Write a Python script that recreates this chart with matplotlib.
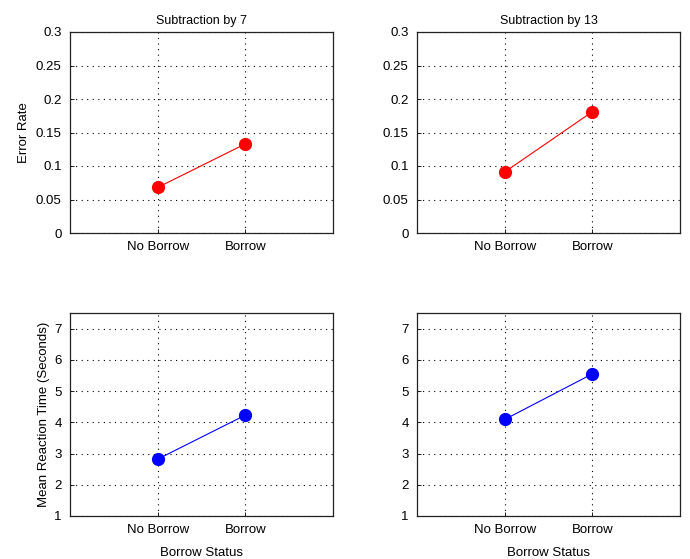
import matplotlib
matplotlib.use("Agg")
import matplotlib.pyplot as plt

# data
categories = ["No Borrow", "Borrow"]
titles = ["Subtraction by 7", "Subtraction by 13"]
error_by7 = [0.068, 0.133]
error_by13 = [0.091, 0.181]
rt_by7 = [2.82, 4.23]
rt_by13 = [4.09, 5.55]
error_ticks = [0, 0.05, 0.1, 0.15, 0.2, 0.25, 0.3]
error_labels = ["0", "0.05", "0.1", "0.15", "0.2", "0.25", "0.3"]
rt_ticks = [1, 2, 3, 4, 5, 6, 7]

plt.rcParams['font.family'] = ['Liberation Sans', 'DejaVu Sans']
plt.rcParams['font.size'] = 9.5

fig = plt.figure(figsize=(6.9, 5.59), dpi=100)

lefts = [70 / 690, 417 / 690]
w = 263 / 690
top_bottom, top_h = 1 - 233 / 559, 201 / 559
bot_bottom, bot_h = 1 - 516 / 559, 203 / 559

x = [1, 2]


def style(ax):
    ax.set_xlim(0, 3)
    ax.set_xticks(x)
    ax.set_xticklabels(categories)
    ax.grid(True, linestyle=(0, (1, 4)), color='black', linewidth=0.8)
    ax.tick_params(direction='in', length=3, width=0.6, pad=6)
    for s in ax.spines.values():
        s.set_linewidth(0.9)
        s.set_color('#222222')


for i, (title, vals) in enumerate(zip(titles, [error_by7, error_by13])):
    ax = fig.add_axes([lefts[i], top_bottom, w, top_h])
    ax.plot(x, vals, '-o', color='red', linewidth=0.8, markersize=8.5)
    ax.set_ylim(0, 0.3)
    ax.set_yticks(error_ticks)
    ax.set_yticklabels(error_labels)
    ax.set_title(title, fontsize=9, pad=6)
    style(ax)
    if i == 0:
        ax.set_ylabel("Error Rate", labelpad=4)

for i, vals in enumerate([rt_by7, rt_by13]):
    ax = fig.add_axes([lefts[i], bot_bottom, w, bot_h])
    ax.plot(x, vals, '-o', color='blue', linewidth=0.8, markersize=8.5)
    ax.set_ylim(1, 7.5)
    ax.set_yticks(rt_ticks)
    style(ax)
    ax.set_xlabel("Borrow Status", labelpad=8)
    if i == 0:
        ax.set_ylabel("Mean Reaction Time (Seconds)", labelpad=3)

fig.savefig("out.png", dpi=100)
